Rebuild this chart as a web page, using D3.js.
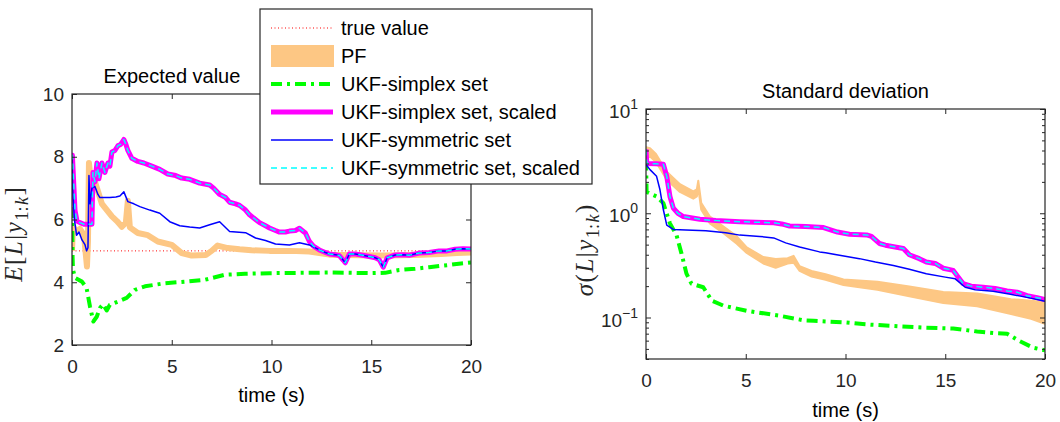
<!DOCTYPE html>
<html>
<head>
<meta charset="utf-8">
<script src="https://cdn.jsdelivr.net/npm/d3@7"></script>
<style>
  body { margin: 0; background: #fff; }
  svg { font-family: "Liberation Sans", Arial, sans-serif; }
</style>
</head>
<body>
<svg id="chart" width="1060" height="422"></svg>
<script>
// ---- data: [time, value] ----
const trueValue = 5;

const meanSimplexScaled = [[0,8.0],[0.02,8.05],[0.15,6.3],[0.25,5.95],[0.4,5.9],[0.6,5.85],[0.8,5.85],[1.0,5.85],[1.05,7.5],[1.15,7.2],[1.25,7.8],[1.35,7.3],[1.5,7.8],[1.65,7.5],[1.8,7.8],[1.9,7.7],[2.0,8.15],[2.15,8.2],[2.3,8.35],[2.45,8.4],[2.6,8.55],[2.7,8.4],[2.8,8.2],[3.0,7.95],[3.3,7.85],[3.6,7.8],[4.0,7.7],[4.4,7.6],[4.8,7.45],[5.2,7.4],[5.5,7.32],[5.9,7.28],[6.4,7.16],[6.9,7.1],[7.1,7.0],[7.4,6.8],[7.7,6.7],[7.9,6.55],[8.2,6.5],[8.4,6.45],[8.7,6.3],[8.9,6.15],[9.2,6.0],[9.4,5.9],[9.7,5.8],[9.9,5.73],[10.2,5.65],[10.4,5.6],[10.7,5.6],[10.9,5.63],[11.2,5.65],[11.4,5.72],[11.6,5.62],[11.7,5.57],[11.9,5.3],[12.1,5.15],[12.4,5.03],[12.7,4.95],[12.9,4.9],[13.2,4.88],[13.4,4.85],[13.6,4.7],[13.7,4.62],[13.9,4.9],[14.2,4.9],[14.5,4.87],[14.9,4.82],[15.2,4.78],[15.4,4.72],[15.6,4.48],[15.8,4.78],[16.2,4.87],[16.6,4.88],[16.9,4.86],[17.4,4.93],[17.9,4.95],[18.4,5.0],[18.8,5.0],[19.2,5.05],[19.6,5.07],[20,5.06]];

const meanSymmetric = [[0,8.0],[0.03,7.0],[0.12,6.0],[0.23,5.5],[0.35,5.6],[0.5,5.35],[0.65,5.2],[0.73,5.0],[0.8,5.1],[0.85,7.4],[0.9,6.5],[1.0,7.0],[1.15,7.05],[1.3,6.8],[1.4,6.7],[1.9,6.7],[2.2,6.72],[2.4,6.75],[2.6,6.88],[2.8,6.57],[3.1,6.5],[3.4,6.41],[3.9,6.3],[4.4,6.2],[4.9,5.93],[5.4,5.8],[5.9,5.76],[6.4,5.73],[6.9,5.83],[7.4,5.93],[7.9,5.62],[8.7,5.58],[9.2,5.41],[9.7,5.33],[10.2,5.22],[10.9,5.19],[11.4,5.26],[11.9,5.19],[12.4,5.03],[12.7,4.95],[12.9,4.9],[13.2,4.88],[13.4,4.85],[13.6,4.7],[13.7,4.62],[13.9,4.9],[14.2,4.9],[14.5,4.87],[14.9,4.82],[15.2,4.78],[15.4,4.72],[15.6,4.48],[15.8,4.78],[16.2,4.87],[16.6,4.88],[16.9,4.86],[17.4,4.93],[17.9,4.95],[18.4,5.0],[18.8,5.0],[19.2,5.05],[19.6,5.07],[20,5.06]];

const meanPF = [[0,5.0],[0.05,5.8],[0.2,5.6],[0.4,5.7],[0.6,5.5],[0.75,4.5],[0.8,5.3],[0.85,7.8],[0.95,7.2],[1.1,7.3],[1.3,6.9],[1.5,6.5],[1.75,6.3],[2.0,6.1],[2.25,5.95],[2.5,5.77],[2.7,5.9],[2.8,6.6],[2.9,5.75],[3.3,5.57],[3.8,5.5],[4.3,5.3],[5.0,5.19],[5.5,4.93],[6.0,4.85],[6.7,4.87],[7.0,5.0],[7.3,5.17],[7.8,5.09],[8.4,5.05],[9.0,5.02],[9.9,5.0],[10.9,5.0],[11.9,4.98],[12.4,4.93],[12.9,4.88],[13.5,4.87],[14.5,4.86],[15.5,4.85],[16.5,4.86],[17.5,4.88],[18.5,4.9],[19.3,4.93],[20,4.95]];

const meanSimplex = [[0,6.4],[0.03,4.8],[0.05,4.4],[0.15,4.14],[0.5,4.02],[0.73,3.82],[0.9,3.23],[1.07,2.75],[1.24,2.9],[1.4,3.18],[1.56,3.3],[1.74,3.1],[1.9,3.28],[2.3,3.38],[2.74,3.5],[3.16,3.76],[3.66,3.87],[4.66,3.97],[5.66,4.02],[6.67,4.08],[7.67,4.24],[8.67,4.27],[9.9,4.29],[11.5,4.3],[12.9,4.31],[14.0,4.3],[15.0,4.29],[15.7,4.3],[16.4,4.39],[17.2,4.43],[17.9,4.48],[18.9,4.55],[19.5,4.6],[20,4.63]];

const stdSimplexScaled = [[0,4.1],[0.04,3.0],[0.5,2.98],[0.87,2.95],[1.04,2.26],[1.2,1.45],[1.37,1.12],[1.6,1.0],[1.87,0.93],[2.7,0.875],[3.5,0.85],[4.7,0.83],[5.5,0.82],[6.4,0.81],[6.8,0.79],[7.2,0.754],[8.0,0.745],[8.9,0.73],[9.6,0.66],[10.2,0.63],[11.06,0.62],[11.3,0.6],[11.7,0.513],[12.0,0.494],[12.9,0.46],[13.2,0.40],[13.7,0.367],[14.05,0.341],[14.5,0.33],[14.9,0.297],[15.4,0.283],[15.9,0.211],[16.3,0.2],[16.9,0.195],[17.5,0.19],[18.1,0.18],[18.6,0.175],[19.1,0.162],[19.6,0.155],[20,0.149]];

const stdSymmetric = [[0,2.93],[0.2,2.62],[0.53,2.26],[0.7,1.68],[0.87,1.08],[1.04,0.77],[1.37,0.70],[2.0,0.69],[3.0,0.68],[4.0,0.65],[4.7,0.617],[5.7,0.60],[6.4,0.58],[7.0,0.52],[7.7,0.475],[8.7,0.426],[9.0,0.417],[9.7,0.395],[10.7,0.367],[11.5,0.34],[12.4,0.316],[13.2,0.29],[14.05,0.263],[15.0,0.244],[15.5,0.235],[16.0,0.195],[16.5,0.185],[17.4,0.179],[18.2,0.168],[19.1,0.156],[20,0.143]];

const stdSimplex = [[0,3.27],[0.03,1.6],[0.53,1.45],[0.87,1.25],[1.2,0.80],[1.53,0.617],[1.78,0.41],[2.03,0.263],[2.28,0.211],[2.87,0.195],[3.3,0.145],[3.88,0.13],[5.05,0.116],[6.7,0.104],[7.9,0.094],[8.4,0.093],[9.9,0.09],[11.0,0.086],[12.4,0.083],[14.0,0.080],[15.4,0.0785],[16.6,0.0734],[17.4,0.071],[18.1,0.070],[18.7,0.0597],[19.4,0.0514],[20,0.0485]];

// PF spread band: [time, low, high]
const stdPF = [[0,3.3,4.3],[0.2,3.5,4.2],[0.5,3.1,3.7],[1.04,2.1,2.5],[1.7,1.6,1.9],[2.37,1.38,1.62],[2.55,1.45,1.7],[2.62,1.75,2.05],[2.77,1.08,1.25],[3.2,0.8,0.93],[3.9,0.64,0.74],[4.55,0.51,0.6],[5.05,0.416,0.47],[5.88,0.33,0.38],[6.5,0.3,0.365],[7.1,0.33,0.37],[7.4,0.335,0.39],[7.7,0.28,0.31],[8.3,0.247,0.28],[9.0,0.23,0.26],[9.9,0.205,0.232],[11.6,0.185,0.22],[13.2,0.16,0.198],[14.9,0.138,0.176],[16.6,0.128,0.17],[18.3,0.108,0.15],[19.3,0.097,0.145],[20,0.087,0.14]];

const xTicks = [0, 5, 10, 15, 20];
const meanTicks = [2, 4, 6, 8, 10];
const stdTicks = [0.1, 1, 10];
const legendLabels = ['true value', 'PF', 'UKF-simplex set', 'UKF-simplex set, scaled', 'UKF-symmetric set', 'UKF-symmetric set, scaled'];

// ---- styles ----
const axisColor = '#262626';
const pfColor = '#fdc784';
const styles = {
  truth: { stroke: '#ff0000', width: 1, dash: '1,2.5' },
  simplex: { stroke: '#00ff00', width: 4, dash: '11,5,3,5' },
  simplexScaled: { stroke: '#ff00ff', width: 5, dash: null },
  symmetric: { stroke: '#0000ff', width: 1.5, dash: null },
  symmetricScaled: { stroke: '#00ffff', width: 1.5, dash: '6,4' },
};

const svg = d3.select('#chart');

function styled(sel, s) {
  return sel.attr('fill', 'none')
    .attr('stroke', s.stroke)
    .attr('stroke-width', s.width)
    .attr('stroke-dasharray', s.dash)
    .attr('stroke-linejoin', 'round');
}

function frame(x, y, id) {
  const [x0, x1] = x.range();
  const [y0, y1] = y.range();
  svg.append('clipPath').attr('id', id)
    .append('rect').attr('x', x0).attr('y', y1).attr('width', x1 - x0).attr('height', y0 - y1);
  return svg.append('g').attr('clip-path', `url(#${id})`);
}

// draws box, ticks and labels; returns the left axis group
function drawAxes(x, y, yTicks, yMinor, fmtY) {
  const [x0, x1] = x.range();
  const [y0, y1] = y.range();
  const g = svg.append('g').attr('class', 'axes');

  g.append('g').attr('transform', `translate(0,${y0})`)
    .call(d3.axisBottom(x).tickValues(xTicks).tickSize(-5).tickPadding(15));
  g.append('g').attr('transform', `translate(0,${y1})`)
    .call(d3.axisTop(x).tickValues(xTicks).tickSize(-5).tickFormat(''));
  const yAxisG = g.append('g').attr('transform', `translate(${x0},0)`)
    .call(d3.axisLeft(y).tickValues(yTicks).tickSize(-5).tickPadding(8).tickFormat(fmtY));
  g.append('g').attr('transform', `translate(${x1},0)`)
    .call(d3.axisRight(y).tickValues(yTicks).tickSize(-5).tickFormat(''));
  if (yMinor) {
    g.append('g').attr('transform', `translate(${x0},0)`)
      .call(d3.axisLeft(y).tickValues(yMinor).tickSize(-3).tickFormat(''));
    g.append('g').attr('transform', `translate(${x1},0)`)
      .call(d3.axisRight(y).tickValues(yMinor).tickSize(-3).tickFormat(''));
  }
  g.selectAll('.domain').remove();
  g.selectAll('.tick line').attr('stroke', axisColor);
  g.selectAll('.tick text').attr('fill', axisColor).attr('font-size', 19)
    .attr('font-family', '"Liberation Sans", Arial, sans-serif');
  g.append('rect').attr('x', x0).attr('y', y1).attr('width', x1 - x0).attr('height', y0 - y1)
    .attr('fill', 'none').attr('stroke', axisColor).attr('stroke-width', 1.2);
  return yAxisG;
}

function addText(x, y, str, size) {
  return svg.append('text').attr('x', x).attr('y', y).attr('text-anchor', 'middle')
    .attr('font-size', size || 20).attr('fill', '#000').text(str);
}

// math label from pieces [text, italic, subscript?, dy]
function mathLabel(cx, cy, parts) {
  const t = svg.append('text')
    .attr('transform', `translate(${cx},${cy}) rotate(-90)`)
    .attr('text-anchor', 'middle')
    .attr('font-family', '"Liberation Serif", "DejaVu Serif", serif')
    .attr('font-size', 25)
    .attr('fill', '#262626');
  parts.forEach(([s, it, sub, dy]) => {
    t.append('tspan').text(s)
      .attr('font-style', it ? 'italic' : 'normal')
      .attr('font-size', sub ? 18 : null)
      .attr('dx', 1.5)
      .attr('dy', dy || null);
  });
}

// ================= Expected value panel =================
const xMean = d3.scaleLinear().domain([0, 20]).range([72, 471]);
const yMean = d3.scaleLinear().domain([2, 10]).range([345, 94]);
const lineMean = d3.line().x((d) => xMean(d[0])).y((d) => yMean(d[1]));

const gMean = frame(xMean, yMean, 'clipMean');
styled(gMean.append('line'), styles.truth)
  .attr('x1', xMean(0)).attr('x2', xMean(20)).attr('y1', yMean(trueValue)).attr('y2', yMean(trueValue));
gMean.append('path').datum(meanPF).attr('d', lineMean)
  .attr('fill', 'none').attr('stroke', pfColor).attr('stroke-width', 6).attr('stroke-linejoin', 'round');
styled(gMean.append('path').datum(meanSimplex).attr('d', lineMean), styles.simplex);
styled(gMean.append('path').datum(meanSimplexScaled).attr('d', lineMean), styles.simplexScaled);
styled(gMean.append('path').datum(meanSymmetric).attr('d', lineMean), styles.symmetric);
styled(gMean.append('path').datum(meanSimplexScaled).attr('d', lineMean), styles.symmetricScaled);

drawAxes(xMean, yMean, meanTicks, null, d3.format('d'));
addText(172, 83, 'Expected value');
addText(271.5, 402, 'time (s)');
mathLabel(22, 236, [['E', 1], ['[', 0], ['L', 1], ['|', 0], ['y', 1], ['1:', 0, 1, 6], ['k', 1, 1], [']', 0, 0, -6]]);

// ================= Standard deviation panel =================
const xStd = d3.scaleLinear().domain([0, 20]).range([646, 1045]);
const yStd = d3.scaleLog().domain([0.04, 10]).range([359, 109]);
const lineStd = d3.line().x((d) => xStd(d[0])).y((d) => yStd(d[1]));
const areaStd = d3.area().x((d) => xStd(d[0])).y0((d) => yStd(d[1])).y1((d) => yStd(d[2]));

const gStd = frame(xStd, yStd, 'clipStd');
gStd.append('path').datum(stdPF).attr('d', areaStd)
  .attr('fill', pfColor).attr('stroke', pfColor).attr('stroke-width', 2).attr('stroke-linejoin', 'round');
styled(gStd.append('path').datum(stdSimplex).attr('d', lineStd), styles.simplex);
styled(gStd.append('path').datum(stdSimplexScaled).attr('d', lineStd), styles.simplexScaled);
styled(gStd.append('path').datum(stdSymmetric).attr('d', lineStd), styles.symmetric);
styled(gStd.append('path').datum(stdSimplexScaled).attr('d', lineStd), styles.symmetricScaled);

const minor = [];
[0.01, 0.1, 1].forEach((dec) => d3.range(2, 10).forEach((m) => {
  const v = +(m * dec).toPrecision(3);
  if (v >= 0.04 && v <= 10) minor.push(v);
}));
const stdYAxis = drawAxes(xStd, yStd, stdTicks, minor, () => '');
// superscript labels 10^n
stdYAxis.selectAll('.tick text').each(function (d) {
  const t = d3.select(this).text('').attr('dy', '0.45em');
  t.append('tspan').text('10');
  t.append('tspan').text(Math.round(Math.log10(d)).toString().replace('-', '\u2212'))
    .attr('font-size', 14).attr('dy', -9);
});
addText(845.5, 98, 'Standard deviation');
addText(845.5, 417, 'time (s)');
mathLabel(593, 252, [['\u03c3', 1], ['(', 0], ['L', 1], ['|', 0], ['y', 1], ['1:', 0, 1, 6], ['k', 1, 1], [')', 0, 0, -6]]);

// ================= legend =================
const lg = svg.append('g').attr('class', 'legend');
lg.append('rect').attr('x', 260).attr('y', 9).attr('width', 332).attr('height', 175)
  .attr('fill', '#fff').attr('stroke', axisColor).attr('stroke-width', 1.2);
const rowY = d3.scalePoint().domain(legendLabels).range([28, 168]);
const sampleStyles = [styles.truth, null, styles.simplex, styles.simplexScaled, styles.symmetric, styles.symmetricScaled];
legendLabels.forEach((lab, i) => {
  const y = rowY(lab);
  if (sampleStyles[i]) {
    styled(lg.append('line'), sampleStyles[i]).attr('x1', 271).attr('x2', 333).attr('y1', y).attr('y2', y);
  } else {
    lg.append('rect').attr('x', 271).attr('y', y - 11).attr('width', 63).attr('height', 22).attr('fill', pfColor);
  }
  lg.append('text').attr('x', 341).attr('y', y).attr('dy', '0.35em')
    .attr('font-size', 20).attr('fill', '#000').text(lab);
});
</script>
</body>
</html>
